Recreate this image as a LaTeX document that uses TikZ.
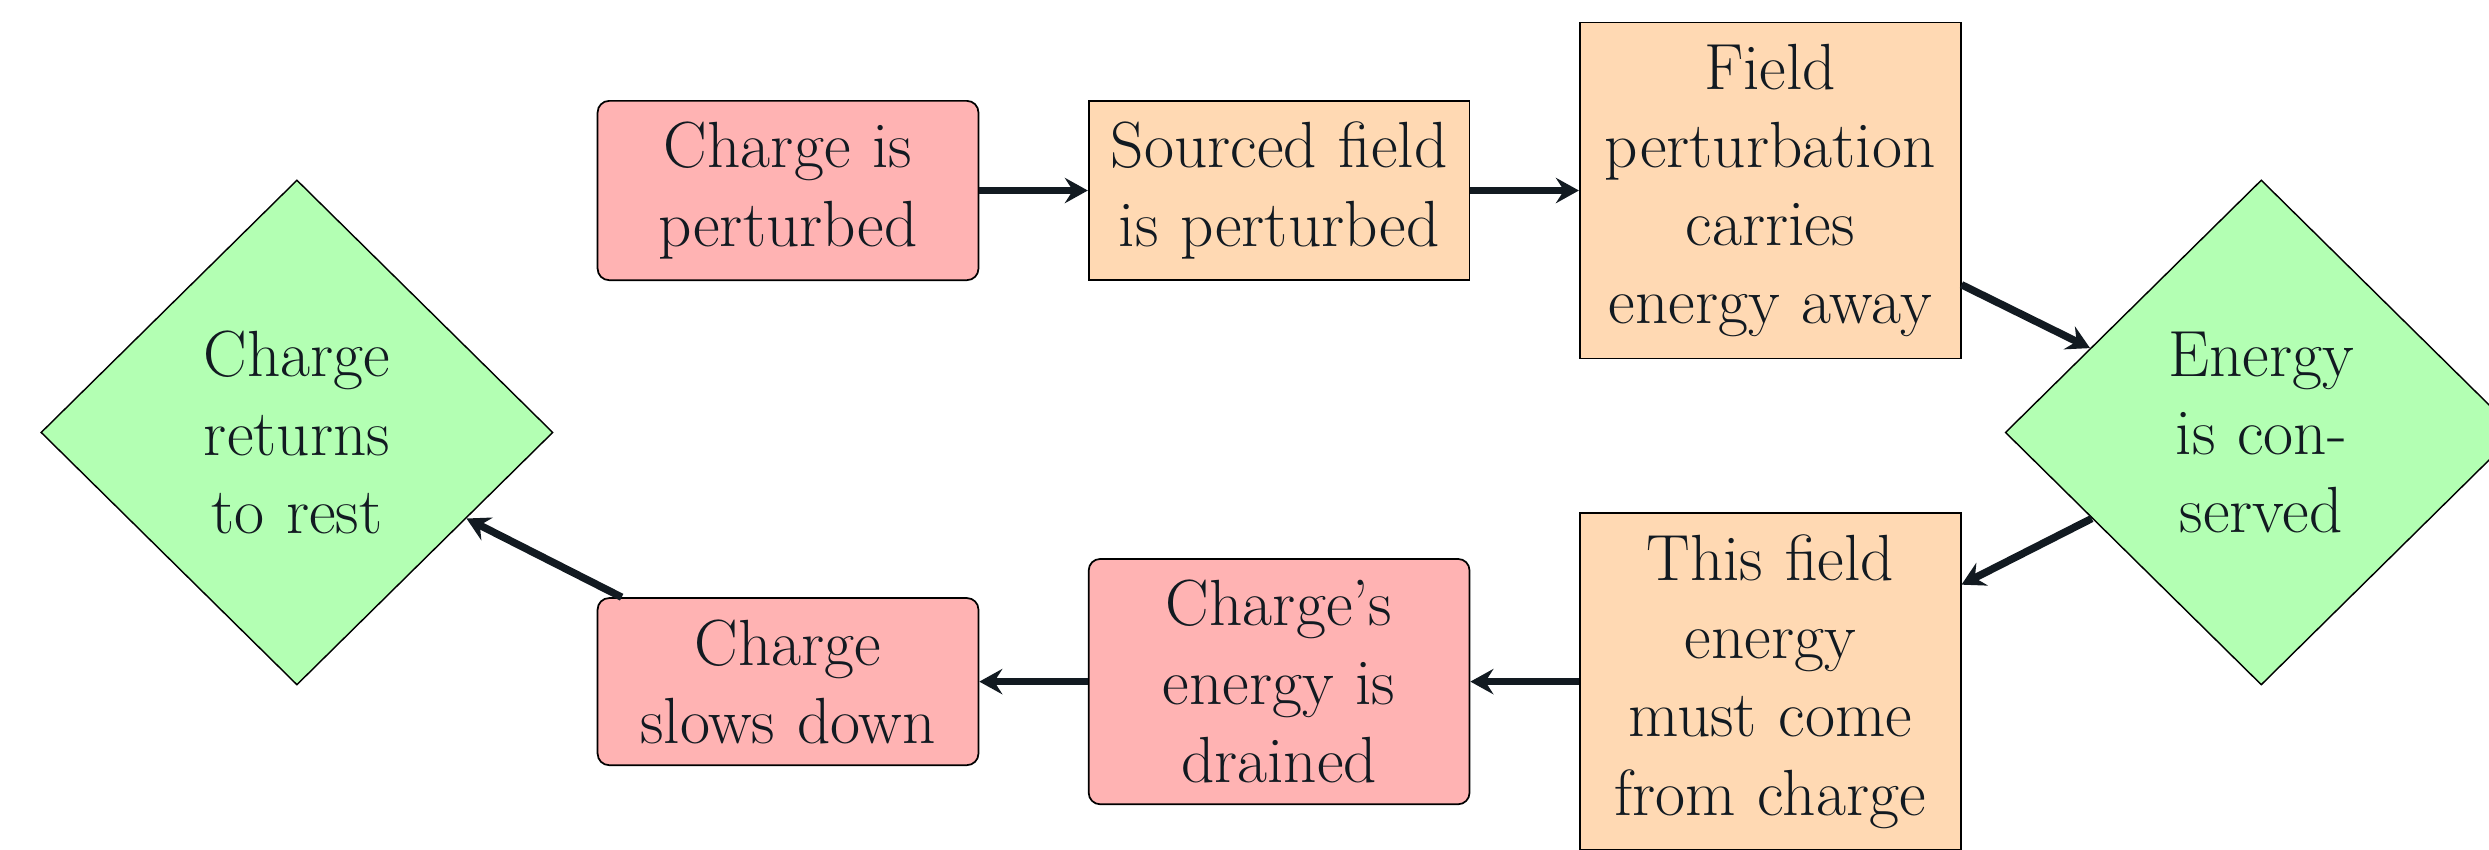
\documentclass[tikz,border=0pt]{standalone}
\usetikzlibrary{shapes.geometric,arrows.meta}
\font\myNodeFont="[lmroman17-regular]:mapping=tex-text" at 11.35pt
\newcommand\setMyNodeFont{\myNodeFont\baselineskip=13.6pt\relax}
\definecolor{redfill}{HTML}{FFB3B3}
\definecolor{orangefill}{HTML}{FFD9B3}
\definecolor{greenfill}{HTML}{B3FFB3}
\definecolor{inkcol}{HTML}{121A21}
\tikzset{
  basenode/.style={font=\setMyNodeFont, text=inkcol, align=center},
  redbox/.style={basenode, rectangle, rounded corners=2pt, draw=black, line width=0.3pt,
    fill=redfill, text width=2.2cm, inner xsep=1.8pt, inner ysep=3.71pt},
  orangebox/.style={basenode, rectangle, draw=black, line width=0.3pt,
    fill=orangefill, text width=2.2cm, inner xsep=1.8pt, inner ysep=3.71pt},
  decision/.style={basenode, diamond, draw=black, line width=0.25pt, fill=greenfill,
    text width=1.4cm, inner sep=0pt, minimum width=3.128cm, minimum height=3.085cm},
  arr/.style={-{Stealth[length=4pt,width=4.4pt,inset=1.4pt]}, line width=1.3pt, draw=inkcol}
}
\begin{document}
\begin{tikzpicture}
\useasboundingbox (-4.814,1.164) rectangle (10.391,-4.023);
\node[redbox] (A) at (0,0) {Charge is\\perturbed};
\node[orangebox] (B) at (3,0) {Sourced field\\is perturbed};
\node[orangebox] (C) at (6,0) {Field\\perturbation\\carries\\energy away};
\node[decision] (E) at (9,-1.478) {Energy\\is con-\\served};
\node[orangebox] (D) at (6,-3) {This field\\energy\\must come\\from charge};
\node[redbox] (F) at (3,-3) {Charge’s\\energy is\\drained};
\node[redbox] (G) at (0,-3) {Charge\\slows down};
\node[decision] (H) at (-3,-1.478) {Charge\\returns\\to rest};
\draw[arr] (A) -- (B);
\draw[arr] (B) -- (C);
\draw[arr] (C) -- (E);
\draw[arr] (E) -- (D);
\draw[arr] (D) -- (F);
\draw[arr] (F) -- (G);
\draw[arr] (G) -- (H);
\end{tikzpicture}
\end{document}
